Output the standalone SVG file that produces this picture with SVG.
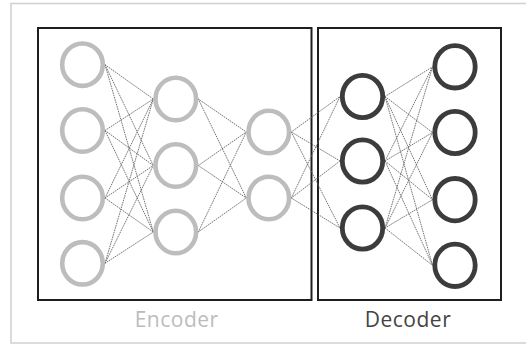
<svg xmlns="http://www.w3.org/2000/svg" width="526" height="345" viewBox="0 0 526 345">
  <style>
    .frame { fill: #ffffff; stroke: #d2d2d2; stroke-width: 1.6; }
    .box { fill: none; stroke: #1e1e1e; stroke-width: 2; }
    .edge { stroke: #666666; stroke-width: 0.9; stroke-dasharray: 1.6 0.8; fill: none; }
    .enc { fill: none; stroke: #bdbdbd; stroke-width: 4.6; }
    .dec { fill: none; stroke: #3c3c3c; stroke-width: 4.8; }
    .label { font-family: "Open Sans", "DejaVu Sans", sans-serif; font-size: 21px; text-anchor: middle; }
  </style>

  <rect width="526" height="345" fill="#ffffff"/>
  <!-- outer frame, open to the right -->
  <rect class="frame" x="11" y="3.5" width="530" height="339.5"/>

  <!-- section boxes -->
  <g id="encoder-box"><rect class="box" x="38" y="28" width="273.5" height="272"/></g>
  <g id="decoder-box"><rect class="box" x="318" y="28" width="183" height="272"/></g>

  <!-- layer-to-layer connections -->
  <g id="connectors" class="edge">
    <!-- input layer to hidden layer -->
    <line x1="105" y1="64.7" x2="153.3" y2="99"/>
    <line x1="105" y1="64.7" x2="153.3" y2="165.5"/>
    <line x1="105" y1="64.7" x2="153.3" y2="232"/>
    <line x1="105" y1="130.5" x2="153.3" y2="99"/>
    <line x1="105" y1="130.5" x2="153.3" y2="165.5"/>
    <line x1="105" y1="130.5" x2="153.3" y2="232"/>
    <line x1="105" y1="198" x2="153.3" y2="99"/>
    <line x1="105" y1="198" x2="153.3" y2="165.5"/>
    <line x1="105" y1="198" x2="153.3" y2="232"/>
    <line x1="105" y1="263.3" x2="153.3" y2="99"/>
    <line x1="105" y1="263.3" x2="153.3" y2="165.5"/>
    <line x1="105" y1="263.3" x2="153.3" y2="232"/>
    <!-- hidden layer to code layer -->
    <line x1="198.3" y1="99" x2="246.3" y2="132"/>
    <line x1="198.3" y1="99" x2="246.3" y2="198"/>
    <line x1="198.3" y1="165.5" x2="246.3" y2="132"/>
    <line x1="198.3" y1="165.5" x2="246.3" y2="198"/>
    <line x1="198.3" y1="232" x2="246.3" y2="132"/>
    <line x1="198.3" y1="232" x2="246.3" y2="198"/>
    <!-- code layer to decoder hidden layer -->
    <line x1="291.3" y1="132" x2="340" y2="96.5"/>
    <line x1="291.3" y1="132" x2="340" y2="161"/>
    <line x1="291.3" y1="132" x2="340" y2="228"/>
    <line x1="291.3" y1="198" x2="340" y2="96.5"/>
    <line x1="291.3" y1="198" x2="340" y2="161"/>
    <line x1="291.3" y1="198" x2="340" y2="228"/>
    <!-- decoder hidden layer to output layer -->
    <line x1="385" y1="96.5" x2="432.5" y2="66.8"/>
    <line x1="385" y1="96.5" x2="432.5" y2="132.5"/>
    <line x1="385" y1="96.5" x2="432.5" y2="199.7"/>
    <line x1="385" y1="96.5" x2="432.5" y2="265.3"/>
    <line x1="385" y1="161" x2="432.5" y2="66.8"/>
    <line x1="385" y1="161" x2="432.5" y2="132.5"/>
    <line x1="385" y1="161" x2="432.5" y2="199.7"/>
    <line x1="385" y1="161" x2="432.5" y2="265.3"/>
    <line x1="385" y1="228" x2="432.5" y2="66.8"/>
    <line x1="385" y1="228" x2="432.5" y2="132.5"/>
    <line x1="385" y1="228" x2="432.5" y2="199.7"/>
    <line x1="385" y1="228" x2="432.5" y2="265.3"/>
  </g>

  <!-- encoder input layer -->
  <g id="enc-in-1"><ellipse class="enc" cx="82.5" cy="64.7" rx="20.3" ry="21.2"/></g>
  <g id="enc-in-2"><ellipse class="enc" cx="82.5" cy="130.5" rx="20.3" ry="21.2"/></g>
  <g id="enc-in-3"><ellipse class="enc" cx="82.5" cy="198" rx="20.3" ry="21.2"/></g>
  <g id="enc-in-4"><ellipse class="enc" cx="82.5" cy="263.3" rx="20.3" ry="21.2"/></g>
  <!-- encoder hidden layer -->
  <g id="enc-h-1"><ellipse class="enc" cx="175.8" cy="99" rx="20.3" ry="21.2"/></g>
  <g id="enc-h-2"><ellipse class="enc" cx="175.8" cy="165.5" rx="20.3" ry="21.2"/></g>
  <g id="enc-h-3"><ellipse class="enc" cx="175.8" cy="232" rx="20.3" ry="21.2"/></g>
  <!-- code layer -->
  <g id="code-1"><ellipse class="enc" cx="268.8" cy="132" rx="20.3" ry="21.2"/></g>
  <g id="code-2"><ellipse class="enc" cx="268.8" cy="198" rx="20.3" ry="21.2"/></g>
  <!-- decoder hidden layer -->
  <g id="dec-h-1"><ellipse class="dec" cx="362.5" cy="96.5" rx="20.2" ry="21.2"/></g>
  <g id="dec-h-2"><ellipse class="dec" cx="362.5" cy="161" rx="20.2" ry="21.2"/></g>
  <g id="dec-h-3"><ellipse class="dec" cx="362.5" cy="228" rx="20.2" ry="21.2"/></g>
  <!-- decoder output layer -->
  <g id="dec-out-1"><ellipse class="dec" cx="455" cy="66.8" rx="20.2" ry="21.2"/></g>
  <g id="dec-out-2"><ellipse class="dec" cx="455" cy="132.5" rx="20.2" ry="21.2"/></g>
  <g id="dec-out-3"><ellipse class="dec" cx="455" cy="199.7" rx="20.2" ry="21.2"/></g>
  <g id="dec-out-4"><ellipse class="dec" cx="455" cy="265.3" rx="20.2" ry="21.2"/></g>

  <!-- section captions -->
  <text class="label" x="176.7" y="326.7" fill="#bcbcbc" letter-spacing="0.5">Encoder</text>
  <text class="label" x="408" y="326.7" fill="#444444" letter-spacing="0.5">Decoder</text>
</svg>
